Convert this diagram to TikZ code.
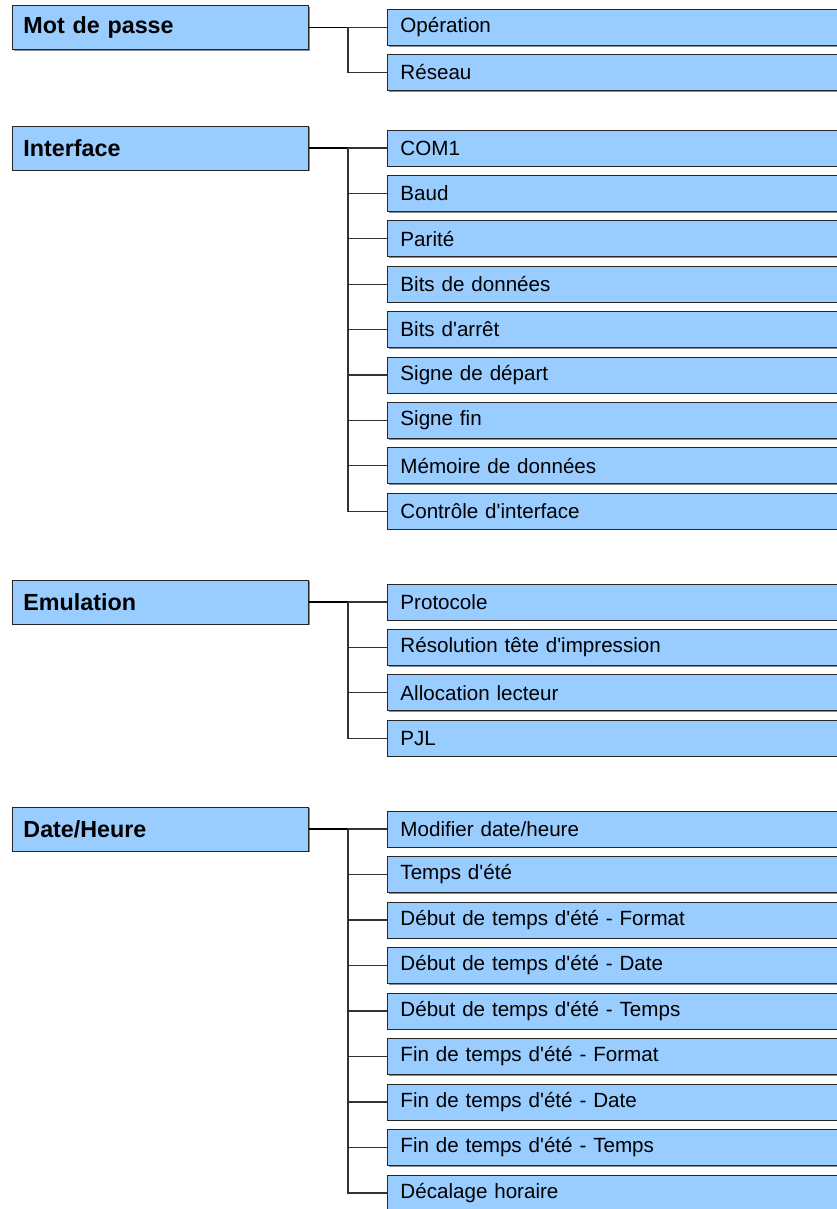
\documentclass[tikz,border=0pt]{standalone}
\usepackage{fontspec}
\setmainfont{Liberation Sans}
\usetikzlibrary{shadows}
\definecolor{boxblue}{HTML}{99CCFF}
\newcommand\ap{\textquotesingle}
\begin{document}
\begin{tikzpicture}[x=1pt,y=-1pt,
  boxbase/.style={draw=black!85, line width=0.9pt, fill=boxblue, rectangle, anchor=west, align=left,
    drop shadow={shadow xshift=1.2pt, shadow yshift=-1.2pt, fill=black!45, opacity=1}},
  parentbox/.style={boxbase, text width=274pt, inner xsep=11pt, minimum height=44pt,
    font=\fontsize{23.3}{27}\selectfont\bfseries},
  childbox/.style={boxbase, text width=440pt, inner xsep=13pt, minimum height=36pt,
    font=\fontsize{20.6}{24}\selectfont},
  trunk/.style={draw=black, line width=1.3pt},
  stub/.style={draw=black!80, line width=1.3pt}]
\clip (0,0) rectangle (837,1209);
\fill[white] (0,0) rectangle (837,1209);

% Group A
\node[parentbox] (pA) at (12,27.5) {Mot de passe};
\coordinate (jA) at (348,27.5);
\draw[trunk] (pA.east) -- (jA);
\foreach \t [count=\i] in {Opération, Réseau} {
  \node[childbox] (a\i) at (387,{27.5+45*(\i-1)}) {\t};
  \draw[stub] (jA) |- (a\i.west);
}

% Group B
\node[parentbox] (pB) at (12,148) {Interface};
\coordinate (jB) at (348,148);
\draw[trunk] (pB.east) -- (jB);
\foreach \t [count=\i] in {COM1, Baud, Parité, Bits de données, Bits d\ap arrêt, Signe de départ, Signe fin, Mémoire de données, Contrôle d\ap interface} {
  \node[childbox] (b\i) at (387,{148+45.4*(\i-1)}) {\t};
  \draw[stub] (jB) |- (b\i.west);
}

% Group C
\node[parentbox] (pC) at (12,602) {Emulation};
\coordinate (jC) at (348,602);
\draw[trunk] (pC.east) -- (jC);
\foreach \t [count=\i] in {Protocole, Résolution tête d\ap impression, Allocation lecteur, PJL} {
  \node[childbox] (c\i) at (387,{602+45.4*(\i-1)}) {\t};
  \draw[stub] (jC) |- (c\i.west);
}

% Group D
\node[parentbox] (pD) at (12,829) {Date/Heure};
\coordinate (jD) at (348,829);
\draw[trunk] (pD.east) -- (jD);
\foreach \t [count=\i] in {Modifier date/heure, Temps d\ap été, Début de temps d\ap été - Format, Début de temps d\ap été - Date, Début de temps d\ap été - Temps, Fin de temps d\ap été - Format, Fin de temps d\ap été - Date, Fin de temps d\ap été - Temps, Décalage horaire} {
  \node[childbox] (d\i) at (387,{829+45.5*(\i-1)}) {\t};
  \draw[stub] (jD) |- (d\i.west);
}
\end{tikzpicture}
\end{document}
